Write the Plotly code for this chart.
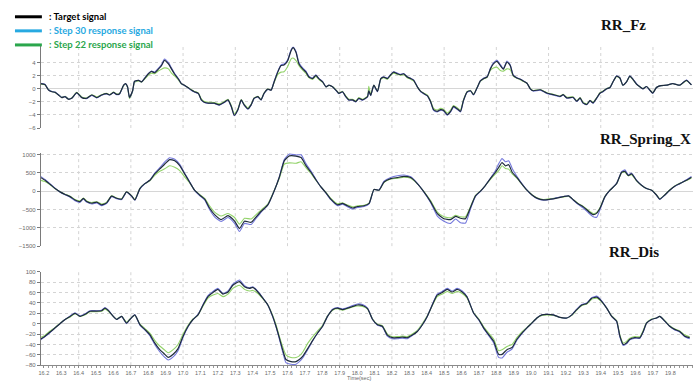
import plotly.graph_objects as go

W, H = 693, 383

# ---------------- RR_Fz ----------------
t_fz = [16.180, 16.206, 16.227, 16.246, 16.265, 16.284, 16.303, 16.322, 16.341, 16.360,
        16.389, 16.418, 16.446, 16.475, 16.504, 16.532, 16.561, 16.578, 16.601, 16.618,
        16.635, 16.658, 16.670, 16.681, 16.692, 16.710, 16.721, 16.744, 16.761, 16.778,
        16.801, 16.819, 16.836, 16.859, 16.876, 16.893, 16.916, 16.933, 16.950, 16.973,
        16.990, 17.008, 17.030, 17.048, 17.065, 17.088, 17.105, 17.122, 17.145, 17.179,
        17.208, 17.237, 17.258, 17.277, 17.294, 17.315, 17.334, 17.351, 17.372, 17.391,
        17.408, 17.430, 17.448, 17.465, 17.487, 17.506, 17.523, 17.544, 17.563, 17.580,
        17.601, 17.620, 17.632, 17.649, 17.666, 17.687, 17.706, 17.723, 17.744, 17.763,
        17.780, 17.802, 17.821, 17.838, 17.859, 17.878, 17.895, 17.916, 17.935, 17.952,
        17.974, 17.993, 18.010, 18.031, 18.060, 18.067, 18.078, 18.096, 18.117, 18.136,
        18.153, 18.174, 18.193, 18.210, 18.231, 18.250, 18.267, 18.288, 18.308, 18.325,
        18.346, 18.365, 18.382, 18.403, 18.422, 18.439, 18.460, 18.479, 18.497, 18.518,
        18.537, 18.554, 18.575, 18.594, 18.611, 18.633, 18.652, 18.669, 18.690, 18.708,
        18.726, 18.747, 18.766, 18.783, 18.804, 18.823, 18.840, 18.861, 18.880, 18.897,
        18.918, 18.937, 18.954, 18.976, 18.995, 19.012, 19.052, 19.090, 19.127, 19.167,
        19.184, 19.205, 19.241, 19.262, 19.281, 19.298, 19.320, 19.338, 19.356, 19.377,
        19.396, 19.413, 19.434, 19.453, 19.470, 19.491, 19.510, 19.527, 19.548, 19.567,
        19.585, 19.606, 19.625, 19.642, 19.663, 19.682, 19.699, 19.720, 19.739, 19.778,
        19.814, 19.854, 19.892, 19.921]
fz_target = [0.80, 0.65, -0.20, -0.45, -0.55, -0.95, -1.35, -1.20, -1.60, -1.45,
             -0.60, -1.35, -1.45, -0.95, -1.35, -0.95, -0.75, -0.95, -0.55, -0.85,
             -0.75, 0.55, 0.80, 0.30, -1.30, -0.30, 1.15, 1.30, 1.05, 1.55,
             2.30, 2.65, 2.45, 3.05, 3.55, 4.35, 3.80, 3.05, 2.30, 1.50,
             0.80, 0.55, 0.15, -0.20, -0.45, -0.70, -1.70, -2.05, -2.20, -2.20,
             -2.45, -2.05, -1.70, -2.70, -4.05, -3.20, -1.70, -2.45, -3.05, -2.45,
             -1.45, -1.20, -1.70, -0.70, -0.05, -0.20, 1.05, 2.55, 3.55, 3.65,
             4.30, 5.80, 6.30, 5.55, 3.80, 3.05, 2.55, 1.80, 1.55, 2.05,
             1.55, 1.05, 0.30, 0.55, 0.30, -0.20, -0.70, -0.45, -1.20, -1.70,
             -1.70, -1.95, -1.45, -1.70, -1.20, -0.30, -1.00, 0.55, -0.40, 1.55,
             1.80, 1.55, 2.15, 2.55, 2.30, 2.15, 2.30, 1.80, 1.55, 1.30,
             0.30, -0.40, -0.70, -1.05, -1.95, -3.20, -3.45, -3.20, -3.30, -3.95,
             -3.45, -2.70, -3.05, -3.45, -1.80, -0.45, -0.30, -0.90, 0.20, 1.20,
             1.55, 1.80, 3.05, 3.80, 4.20, 3.55, 3.00, 4.10, 3.55, 2.05,
             1.65, 1.45, 1.20, 0.85, 0.00, -0.30, -0.15, -0.65, -0.90, -1.15,
             -0.90, -1.40, -1.30, -1.90, -1.40, -2.15, -2.40, -1.80, -2.15, -1.40,
             -0.65, -0.40, 0.00, 0.20, 1.05, 1.95, 1.65, 0.55, 1.05, 1.95,
             1.45, 0.70, 0.30, 0.00, 0.35, -0.20, -0.65, 0.20, 0.45, 0.55,
             0.80, 0.55, 1.30, 0.60]
fz_step30 = [0.85, 0.70, -0.15, -0.40, -0.50, -0.90, -1.30, -1.20, -1.55, -1.45,
             -0.65, -1.35, -1.50, -1.00, -1.40, -1.00, -0.80, -0.95, -0.60, -0.90,
             -0.80, 0.50, 0.75, 0.25, -1.35, -0.35, 1.10, 1.30, 1.05, 1.60,
             2.35, 2.70, 2.55, 3.15, 3.70, 4.55, 4.00, 3.20, 2.40, 1.55,
             0.80, 0.50, 0.10, -0.25, -0.50, -0.75, -1.75, -2.10, -2.25, -2.25,
             -2.50, -2.10, -1.75, -2.75, -4.10, -3.25, -1.75, -2.50, -3.10, -2.50,
             -1.50, -1.25, -1.70, -0.75, -0.10, -0.20, 1.10, 2.65, 3.65, 3.80,
             4.45, 5.95, 6.40, 5.70, 4.00, 3.20, 2.70, 1.95, 1.65, 2.15,
             1.60, 1.10, 0.30, 0.55, 0.30, -0.25, -0.75, -0.50, -1.25, -1.75,
             -1.75, -2.00, -1.50, -1.75, -1.25, -0.35, -1.05, 0.50, -0.45, 1.55,
             1.85, 1.60, 2.20, 2.60, 2.40, 2.20, 2.35, 1.85, 1.60, 1.35,
             0.30, -0.45, -0.75, -1.10, -2.00, -3.30, -3.55, -3.30, -3.40, -4.05,
             -3.55, -2.80, -3.15, -3.55, -1.85, -0.50, -0.35, -0.95, 0.15, 1.20,
             1.60, 1.85, 3.15, 3.95, 4.35, 3.70, 3.10, 4.25, 3.65, 2.10,
             1.70, 1.50, 1.25, 0.85, 0.00, -0.35, -0.20, -0.70, -0.95, -1.20,
             -0.95, -1.45, -1.35, -1.95, -1.45, -2.20, -2.45, -1.85, -2.20, -1.45,
             -0.70, -0.45, 0.00, 0.20, 1.05, 2.00, 1.70, 0.55, 1.05, 2.00,
             1.50, 0.75, 0.30, 0.00, 0.35, -0.25, -0.70, 0.20, 0.45, 0.55,
             0.80, 0.55, 1.35, 0.60]
fz_step22 = [0.70, 0.60, -0.10, -0.40, -0.55, -0.90, -1.30, -1.15, -1.50, -1.40,
             -0.55, -1.25, -1.40, -0.90, -1.25, -0.90, -0.70, -0.90, -0.50, -0.80,
             -0.70, 0.45, 0.70, 0.20, -1.50, -0.40, 1.00, 1.20, 1.00, 1.45,
             2.10, 2.40, 2.30, 2.75, 3.00, 3.20, 3.05, 2.40, 2.00, 1.35,
             0.75, 0.50, 0.15, -0.15, -0.40, -0.65, -1.55, -1.95, -2.05, -2.10,
             -2.30, -1.95, -1.60, -2.55, -3.80, -3.05, -1.65, -2.35, -2.90, -2.35,
             -1.40, -1.15, -1.60, -0.70, -0.05, -0.15, 0.95, 2.20, 2.55, 2.60,
             3.40, 4.55, 4.70, 4.30, 3.55, 2.85, 2.35, 1.70, 1.45, 1.90,
             1.45, 1.00, 0.30, 0.50, 0.30, -0.15, -0.65, -0.40, -1.10, -1.60,
             -1.60, -1.85, -1.35, -1.60, -1.10, 0.40, -0.90, 0.55, -0.35, 1.45,
             1.70, 1.45, 2.05, 2.40, 2.20, 2.05, 2.20, 1.70, 1.45, 1.20,
             0.30, -0.35, -0.65, -0.95, -1.85, -3.00, -3.25, -3.00, -3.15, -3.70,
             -3.25, -2.55, -2.90, -3.25, -1.70, -0.40, -0.25, -0.85, 0.20, 1.15,
             1.50, 1.75, 2.85, 3.20, 3.30, 2.80, 2.70, 3.05, 2.90, 1.95,
             1.60, 1.40, 1.15, 0.85, 0.05, -0.25, -0.10, -0.60, -0.85, -1.10,
             -0.85, -1.30, -1.25, -1.80, -1.35, -2.05, -2.30, -1.75, -2.05, -1.35,
             -0.60, -0.35, 0.05, 0.25, 1.05, 1.90, 1.60, 0.55, 1.05, 1.90,
             1.40, 0.70, 0.30, 0.05, 0.35, -0.15, -0.60, 0.20, 0.45, 0.55,
             0.80, 0.55, 1.25, 0.60]

# ---------------- RR_Spring_X ----------------
t_spring = [16.179, 16.207, 16.236, 16.265, 16.293, 16.322, 16.351, 16.379, 16.408, 16.427,
            16.446, 16.475, 16.504, 16.532, 16.561, 16.589, 16.618, 16.647, 16.675, 16.704,
            16.723, 16.752, 16.780, 16.809, 16.837, 16.866, 16.895, 16.923, 16.952, 16.981,
            17.009, 17.037, 17.066, 17.095, 17.124, 17.152, 17.181, 17.219, 17.258, 17.296,
            17.324, 17.353, 17.391, 17.420, 17.449, 17.487, 17.525, 17.553, 17.582, 17.611,
            17.649, 17.678, 17.706, 17.735, 17.763, 17.792, 17.821, 17.849, 17.888, 17.916,
            17.945, 17.974, 18.002, 18.040, 18.069, 18.097, 18.126, 18.155, 18.193, 18.231,
            18.269, 18.308, 18.346, 18.384, 18.422, 18.461, 18.499, 18.537, 18.566, 18.594,
            18.623, 18.652, 18.680, 18.709, 18.738, 18.766, 18.795, 18.814, 18.833, 18.852,
            18.871, 18.891, 18.919, 18.948, 18.976, 19.005, 19.033, 19.071, 19.110, 19.148,
            19.186, 19.215, 19.243, 19.272, 19.300, 19.329, 19.357, 19.377, 19.396, 19.424,
            19.453, 19.491, 19.520, 19.539, 19.558, 19.577, 19.606, 19.634, 19.663, 19.692,
            19.720, 19.739, 19.768, 19.796, 19.825, 19.854, 19.892, 19.921]
spring_target = [380, 295, 185, 70, -20, -90, -150, -240, -285, -195,
                 -285, -330, -300, -375, -320, -135, -195, -220, -20, -130,
                 -240, 70, 205, 295, 470, 605, 740, 860, 830, 695,
                 470, 250, 25, -105, -220, -460, -640, -775, -670, -820,
                 -1020, -820, -850, -700, -550, -375, 25, 380, 830, 960,
                 956, 915, 695, 515, 310, 115, -45, -220, -375, -335,
                 -400, -460, -420, -400, -335, 45, 25, 250, 340, 370,
                 400, 370, 205, -20, -285, -615, -755, -775, -690, -740,
                 -750, -440, -130, 0, 160, 340, 515, 650, 780, 690,
                 720, 515, 365, 185, 25, -105, -190, -240, -220, -190,
                 -150, -130, -240, -350, -430, -550, -640, -600, -460, -150,
                 25, 205, 515, 540, 425, 470, 285, 160, 70, 25,
                 -105, -220, -105, 25, 135, 205, 295, 380]
spring_step30 = [410, 320, 200, 75, -25, -100, -165, -260, -305, -215,
                 -300, -350, -320, -395, -335, -150, -205, -230, -30, -140,
                 -250, 60, 200, 300, 490, 640, 800, 910, 870, 730,
                 490, 260, 20, -120, -240, -500, -700, -830, -720, -880,
                 -1100, -880, -910, -740, -570, -380, 20, 390, 870, 1010,
                 985, 990, 750, 545, 325, 115, -55, -235, -400, -355,
                 -425, -490, -445, -420, -345, 40, 30, 270, 370, 420,
                 440, 390, 210, -30, -310, -680, -820, -880, -760, -860,
                 -870, -480, -145, -5, 160, 350, 560, 750, 890, 800,
                 830, 620, 400, 200, 30, -110, -200, -250, -230, -175,
                 -145, -125, -250, -370, -460, -590, -700, -710, -500, -160,
                 25, 210, 530, 580, 445, 490, 295, 165, 70, 20,
                 -110, -225, -110, 20, 130, 200, 310, 400]
spring_step22 = [300, 260, 170, 65, -15, -85, -140, -225, -265, -190,
                 -270, -310, -290, -350, -300, -130, -185, -210, -20, -125,
                 -230, 75, 200, 280, 430, 540, 610, 690, 650, 560,
                 390, 230, 30, -90, -200, -400, -575, -680, -610, -720,
                 -900, -740, -760, -640, -510, -350, 30, 350, 740, 770,
                 760, 800, 640, 480, 300, 115, -35, -200, -345, -320,
                 -380, -430, -400, -385, -325, 45, 25, 240, 330, 350,
                 380, 350, 200, -10, -260, -570, -700, -730, -660, -700,
                 -700, -420, -120, 5, 160, 320, 470, 560, 690, 620,
                 600, 470, 345, 180, 25, -100, -180, -230, -210, -180,
                 -160, -140, -235, -340, -420, -530, -610, -580, -450, -145,
                 25, 200, 500, 520, 420, 450, 280, 160, 70, 25,
                 -100, -210, -100, 30, 140, 215, 290, 360]

# ---------------- RR_Dis ----------------
t_dis = [16.179, 16.207, 16.236, 16.265, 16.293, 16.322, 16.351, 16.379, 16.408, 16.437,
         16.465, 16.504, 16.532, 16.551, 16.571, 16.599, 16.618, 16.647, 16.675, 16.694,
         16.723, 16.752, 16.780, 16.809, 16.837, 16.866, 16.895, 16.914, 16.943, 16.971,
         17.000, 17.029, 17.057, 17.086, 17.115, 17.143, 17.172, 17.200, 17.229, 17.258,
         17.286, 17.324, 17.353, 17.382, 17.401, 17.430, 17.458, 17.487, 17.515, 17.534,
         17.553, 17.572, 17.591, 17.620, 17.649, 17.668, 17.687, 17.716, 17.745, 17.773,
         17.802, 17.830, 17.859, 17.888, 17.916, 17.945, 17.974, 18.002, 18.031, 18.060,
         18.089, 18.117, 18.145, 18.174, 18.203, 18.231, 18.260, 18.289, 18.317, 18.346,
         18.375, 18.403, 18.432, 18.460, 18.489, 18.518, 18.546, 18.575, 18.604, 18.632,
         18.670, 18.699, 18.727, 18.756, 18.785, 18.813, 18.833, 18.861, 18.890, 18.918,
         18.947, 18.976, 19.004, 19.033, 19.062, 19.090, 19.128, 19.167, 19.205, 19.234,
         19.262, 19.291, 19.320, 19.348, 19.377, 19.405, 19.434, 19.463, 19.491, 19.510,
         19.529, 19.548, 19.567, 19.596, 19.625, 19.644, 19.663, 19.692, 19.720, 19.739,
         19.768, 19.796, 19.825, 19.854, 19.883, 19.911]
dis_target = [-30, -24, -16, -8, 0, 8, 14, 20, 14, 18,
              24, 24, 25, 30, 25, 14, 8, 14, 1, 8,
              17, -2, -11, -21, -37, -50, -59, -65, -59, -48,
              -24, -5, 8, 17, 36, 52, 60, 66, 57, 61,
              74, 81, 71, 68, 70, 61, 49, 36, 14, -5,
              -27, -50, -69, -73, -73, -69, -63, -48, -32, -18,
              -5, 14, 27, 30, 27, 30, 33, 36, 35, 29,
              8, -2, -5, -22, -27, -27, -26, -27, -22, -15,
              -2, 14, 36, 55, 60, 66, 61, 66, 61, 51,
              20, 8, -8, -21, -34, -59, -59, -50, -46, -30,
              -18, -8, 1, 11, 17, 18, 17, 12, 11, 17,
              27, 36, 39, 49, 51, 43, 30, 14, 5, -24,
              -40, -37, -30, -27, -27, -15, 1, 8, 11, 14,
              5, -5, -11, -15, -24, -27]
dis_step30 = [-32, -25, -17, -8, 0, 8, 15, 21, 15, 19,
              25, 25, 26, 31, 26, 14, 8, 14, 0, 8,
              17, -3, -12, -23, -40, -54, -65, -70, -64, -52,
              -26, -6, 8, 18, 37, 54, 62, 68, 58, 63,
              76, 84, 73, 69, 71, 62, 50, 36, 13, -6,
              -29, -54, -75, -78, -78, -73, -66, -50, -33, -18,
              -5, 14, 28, 31, 28, 31, 35, 38, 37, 30,
              8, -3, -6, -24, -29, -29, -28, -29, -23, -15,
              -2, 14, 37, 57, 62, 68, 63, 68, 63, 52,
              20, 7, -9, -23, -37, -65, -66, -55, -49, -32,
              -19, -8, 1, 11, 17, 18, 17, 12, 11, 17,
              28, 37, 40, 50, 53, 44, 30, 14, 4, -26,
              -42, -39, -31, -28, -28, -16, 1, 8, 11, 14,
              5, -5, -12, -16, -25, -29]
dis_step22 = [-27, -22, -14, -7, 1, 8, 13, 19, 14, 17,
              23, 23, 24, 28, 24, 14, 9, 14, 3, 9,
              16, -1, -9, -18, -32, -43, -51, -56, -50, -40,
              -20, -3, 9, 17, 34, 49, 55, 58, 52, 57,
              68, 74, 66, 63, 64, 58, 48, 36, 16, -2,
              -24, -44, -60, -65, -65, -62, -55, -38, -25, -14,
              -3, 15, 26, 29, 26, 29, 32, 34, 33, 28,
              9, -1, -4, -20, -25, -25, -24, -25, -20, -13,
              0, 15, 35, 52, 57, 62, 58, 62, 58, 49,
              21, 9, -6, -18, -30, -52, -50, -44, -40, -27,
              -16, -7, 2, 11, 16, 17, 16, 12, 11, 16,
              26, 35, 38, 47, 49, 42, 30, 15, 6, -22,
              -37, -34, -28, -25, -25, -13, 2, 9, 11, 14,
              6, -4, -10, -14, -22, -25]

# ---------------- axes ----------------
time_ticks = [16.2, 16.3, 16.4, 16.5, 16.6, 16.7, 16.8, 16.9, 17.0, 17.1,
              17.2, 17.3, 17.4, 17.5, 17.6, 17.7, 17.8, 17.9, 18.0, 18.1,
              18.2, 18.3, 18.4, 18.5, 18.6, 18.7, 18.8, 18.9, 19.0, 19.1,
              19.2, 19.3, 19.4, 19.5, 19.6, 19.7, 19.8, 19.9]
grid_times = [16.4, 16.7, 17.0, 17.3, 17.6, 17.9, 18.2, 18.5, 18.8, 19.1, 19.4, 19.7]
fz_ticks = [-6, -4, -2, 0, 2, 4]
spring_ticks = [-1500, -1000, -500, 0, 500, 1000]
dis_ticks = [-80, -60, -40, -20, 0, 20, 40, 60, 80, 100]

panel_titles = ["RR_Fz", "RR_Spring_X", "RR_Dis"]
legend_labels = [": Target signal", ": Step 30 response signal", ": Step 22 response signal"]

C_TARGET = "#1e2c3c"
C_STEP30 = "#7478dc"
C_STEP22 = "#93d36a"
LEG_COLORS = ["#000000", "#27a9e1", "#2aa64c"]

X_RANGE = [16.183, 19.93]
X_DOMAIN = [39 / W, 1.0]


def py(v):
    """pixel row -> paper y"""
    return 1 - v / H


def px(v):
    return v / W


fig = go.Figure()

panels = [
    # (x axis id, y axis id, t, target, step30, step22)
    ("x3", "y3", t_fz, fz_target, fz_step30, fz_step22),
    ("x2", "y2", t_spring, spring_target, spring_step30, spring_step22),
    ("x", "y", t_dis, dis_target, dis_step30, dis_step22),
]
for xa, ya, t, tgt, s30, s22 in panels:
    for vals, col, w in ((s22, C_STEP22, 1.1), (s30, C_STEP30, 1.1), (tgt, C_TARGET, 1.2)):
        fig.add_trace(go.Scatter(
            x=t, y=vals, mode="lines", xaxis=xa, yaxis=ya,
            line=dict(color=col, width=w, shape="spline", smoothing=0.5),
            showlegend=False, hoverinfo="skip"))

ytick_font = dict(family="Arial", size=6, color="#6a6a6a")
yax_common = dict(
    showline=True, linecolor="#7a7a7a", linewidth=1,
    ticks="outside", ticklen=3, tickcolor="#7a7a7a", tickfont=ytick_font,
    showgrid=True, gridcolor="#d4d4d4", griddash="dot", gridwidth=1,
    zeroline=True, zerolinecolor="#d6d6d6", zerolinewidth=1,
    tickmode="array", fixedrange=True,
)
xax_hidden = dict(range=X_RANGE, domain=X_DOMAIN, showline=False, showticklabels=False,
                  ticks="", showgrid=False, zeroline=False)

fig.update_layout(
    width=W, height=H,
    margin=dict(l=0, r=0, t=0, b=0),
    paper_bgcolor="white", plot_bgcolor="white",
    xaxis=dict(range=X_RANGE, domain=X_DOMAIN, anchor="y",
               showline=True, linecolor="#8a8a8a", linewidth=1,
               ticks="outside", ticklen=2, tickcolor="#8a8a8a",
               tickmode="array", tickvals=time_ticks,
               ticktext=[f"{v:.1f}" for v in time_ticks],
               tickfont=dict(family="Arial", size=5.5, color="#6a6a6a"),
               minor=dict(ticks="outside", ticklen=2, tickcolor="#9a9a9a",
                          dtick=0.025, tick0=16.2, showgrid=False),
               showgrid=False, zeroline=False),
    xaxis2=dict(anchor="y2", **xax_hidden),
    xaxis3=dict(anchor="y3", **xax_hidden),
    yaxis=dict(domain=[py(368), py(273)], range=[-80, 100], anchor="x",
               tickvals=dis_ticks, **yax_common),
    yaxis2=dict(domain=[py(247), py(152)], range=[-1500, 1050], anchor="x2",
                tickvals=spring_ticks, **yax_common),
    yaxis3=dict(domain=[py(127), py(44)], range=[-6, 6.5], anchor="x3",
                tickvals=fz_ticks, **yax_common),
)

# vertical dotted grid in every panel
shapes = []
for ya in ("y", "y2", "y3"):
    xa = {"y": "x", "y2": "x2", "y3": "x3"}[ya]
    for g in grid_times:
        shapes.append(dict(type="line", xref=xa, yref=f"{ya} domain", x0=g, x1=g, y0=0, y1=1,
                           line=dict(color="#d4d4d4", width=1, dash="dot"), layer="below"))

# legend swatches
for i, col in enumerate(LEG_COLORS):
    yy = py(14 + 14.3 * i)
    shapes.append(dict(type="line", xref="paper", yref="paper",
                       x0=px(13), x1=px(40), y0=yy, y1=yy,
                       line=dict(color=col, width=3)))
fig.update_layout(shapes=shapes)

annotations = []
for i, (lab, col) in enumerate(zip(legend_labels, LEG_COLORS)):
    annotations.append(dict(x=px(45), y=py(14 + 14.3 * i), xref="paper", yref="paper",
                            text=f"<b>{lab}</b>", showarrow=False, xanchor="left", yanchor="middle",
                            font=dict(family="Lato", size=9.5, color=col)))

title_pos = [(599, 22.5), (598, 138), (607, 253)]
for title, (tx, ty) in zip(panel_titles, title_pos):
    annotations.append(dict(x=px(tx), y=py(ty), xref="paper", yref="paper",
                            text=f"<b>{title}</b>", showarrow=False, xanchor="left", yanchor="middle",
                            font=dict(family="Liberation Serif", size=15, color="#111111")))

annotations.append(dict(x=px(358), y=py(380.5), xref="paper", yref="paper", text="Time(sec)",
                        showarrow=False, xanchor="center", yanchor="middle",
                        font=dict(family="Arial", size=5.5, color="#6a6a6a")))
fig.update_layout(annotations=annotations)

fig.write_html("out.html")
